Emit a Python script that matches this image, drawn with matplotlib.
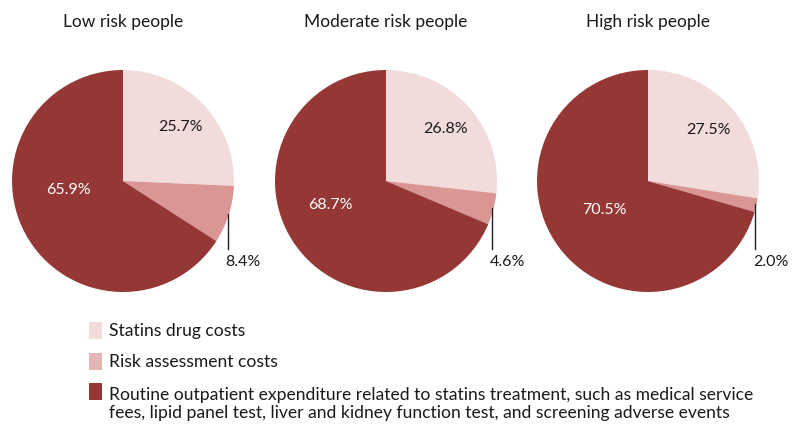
import numpy as np
import matplotlib.pyplot as plt
from matplotlib.patches import Rectangle

plt.rcParams['font.family'] = ['Lato', 'DejaVu Sans']

groups = ['Low risk people', 'Moderate risk people', 'High risk people']
drug = [25.7, 26.8, 27.5]
assess = [8.4, 4.6, 2.0]
routine = [65.9, 68.7, 70.5]

legend_labels = ['Statins drug costs',
                 'Risk assessment costs',
                 'Routine outpatient expenditure related to statins treatment, such as medical service\n'
                 'fees, lipid panel test, liver and kidney function test, and screening adverse events']
colors = ['#F2DCDB', '#D99694', '#953735']
legend_colors = ['#F2DCDB', '#E4B5B4', '#953735']

W, H = 800, 435
fig = plt.figure(figsize=(8, 4.35), dpi=100)

R = 111  # pie radius in px
centers = [(123, 182), (386, 182), (648, 182)]
# where Excel put the big-slice label (in radius units)
dark_pos = [(-0.49, -0.07), (-0.50, -0.21), (-0.39, -0.25)]
span = 1.4

for i, name in enumerate(groups):
    cx, cy = centers[i]
    ax = fig.add_axes([(cx - span * R) / W, (H - cy - span * R) / H,
                       2 * span * R / W, 2 * span * R / H])
    vals = [drug[i], assess[i], routine[i]]
    wedges, _ = ax.pie(vals, colors=colors, startangle=90, counterclock=False,
                       radius=1, wedgeprops=dict(linewidth=0))
    ax.set_xlim(-span, span)
    ax.set_ylim(-span, span)
    ax.set_aspect('equal')
    ax.axis('off')

    # drug costs label
    a = np.deg2rad((wedges[0].theta1 + wedges[0].theta2) / 2)
    ax.text(0.72 * np.cos(a), 0.72 * np.sin(a), f'{drug[i]:.1f}%',
            ha='center', va='center', fontsize=11.5, color='#1a1a1a')
    # routine label
    ax.text(dark_pos[i][0], dark_pos[i][1], f'{routine[i]:.1f}%',
            ha='center', va='center', fontsize=11.5, color='white')
    # assessment label with leader line
    a = np.deg2rad((wedges[1].theta1 + wedges[1].theta2) / 2)
    x0 = np.cos(a) - 0.01
    y0 = np.sin(a) + 0.01
    ax.plot([x0, x0], [y0, -0.61], color='#222222', lw=1)
    ax.text(x0 - 0.02, -0.72, f'{assess[i]:.1f}%', ha='left', va='center',
            fontsize=11.5, color='#1a1a1a')

    fig.text(cx / W, 1 - 22 / H, name, ha='center', va='center', fontsize=12.5, color='#1a1a1a')

# legend
box_y = [323, 354, 384]
text_y = [331, 362, 404]
for j, lab in enumerate(legend_labels):
    fig.patches.append(Rectangle((89 / W, 1 - (box_y[j] + 17) / H), 13 / W, 17 / H,
                                 transform=fig.transFigure, facecolor=legend_colors[j],
                                 edgecolor='none'))
    fig.text(109 / W, 1 - text_y[j] / H, lab, ha='left', va='center', fontsize=12.6,
             color='#1a1a1a', linespacing=1.2)

fig.savefig('out.png', dpi=100, facecolor='white')
